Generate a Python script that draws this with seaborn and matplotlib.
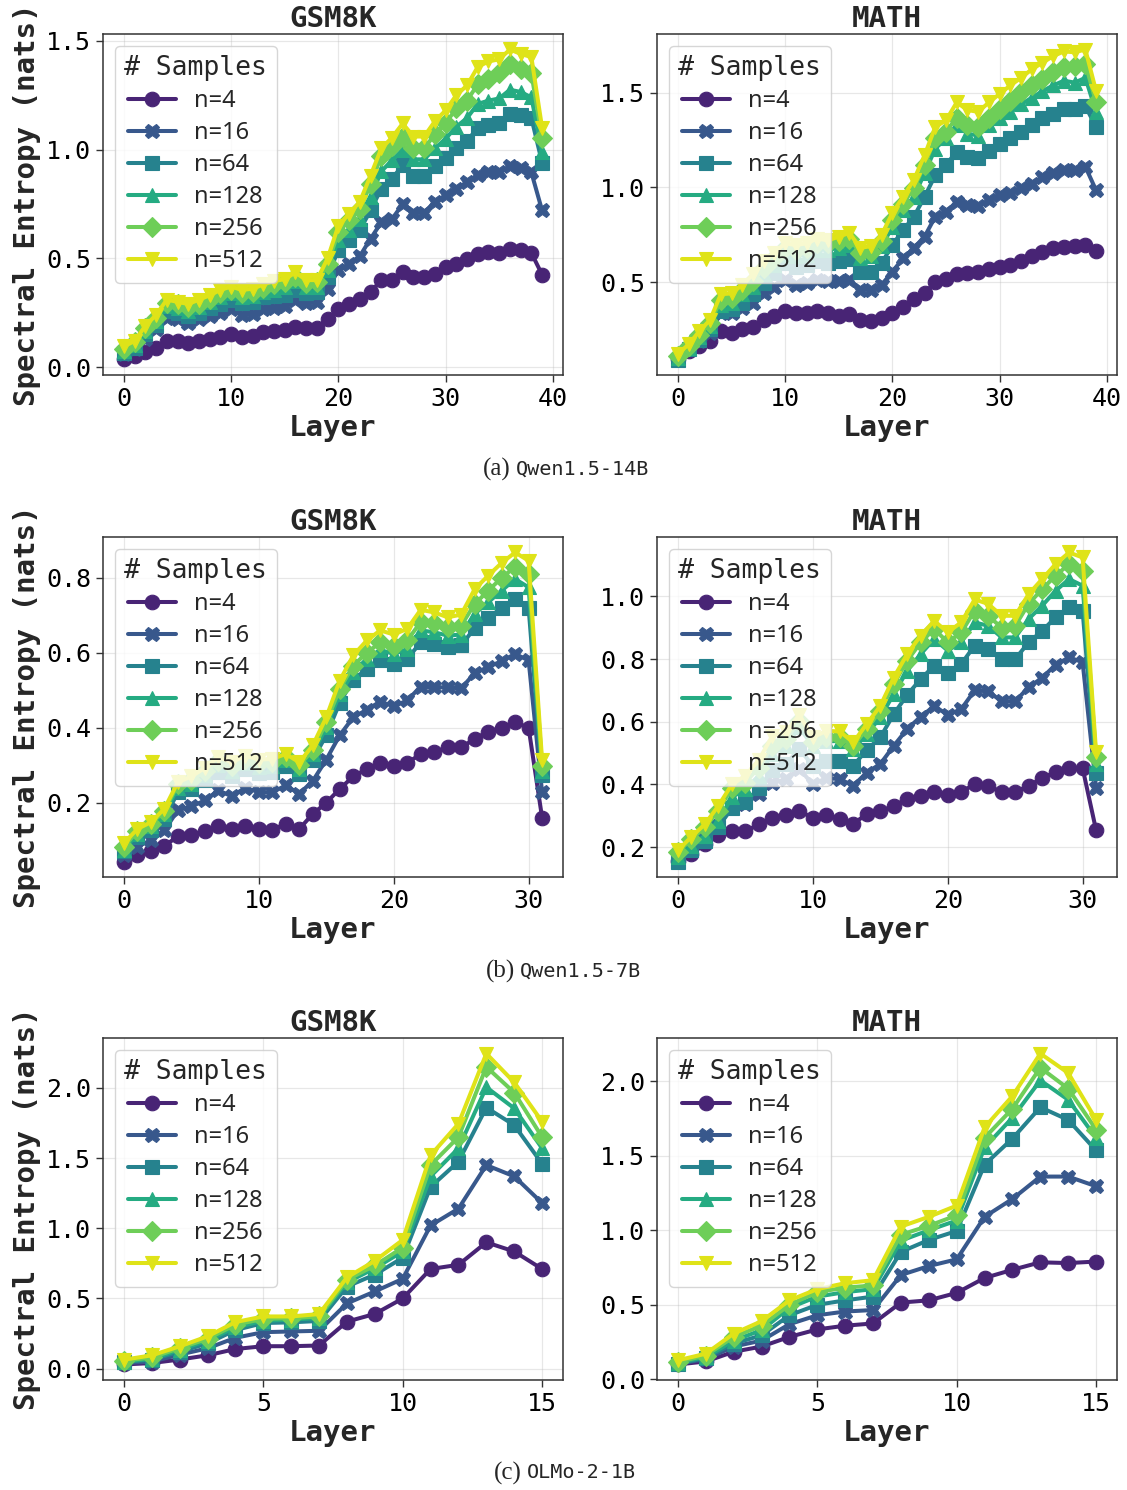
import matplotlib
matplotlib.use("Agg")
import matplotlib.pyplot as plt
from matplotlib.font_manager import FontProperties
import numpy as np
import pandas as pd
import seaborn as sns

# ---------------------------------------------------------------- data
SAMPLE_COUNTS = [4, 16, 64, 128, 256, 512]
MARKERS = ["o", "X", "s", "^", "D", "v"]
DATASETS = ["GSM8K", "MATH"]
MODELS = ["Qwen1.5-14B", "Qwen1.5-7B", "OLMo-2-1B"]
PANEL_TAGS = ["(a)", "(b)", "(c)"]

# spectral entropy (nats) per layer, keyed by number of samples
qwen14b_gsm8k = {
    4: [0.035, 0.05, 0.07, 0.09, 0.12, 0.12, 0.11, 0.12, 0.13, 0.14, 0.15, 0.14, 0.145, 0.16, 0.165, 0.17, 0.185, 0.18, 0.18, 0.22,
        0.265, 0.29, 0.315, 0.345, 0.40, 0.40, 0.435, 0.415, 0.415, 0.43, 0.46, 0.475, 0.495, 0.52, 0.53, 0.525, 0.545, 0.54, 0.525, 0.425],
    16: [0.06, 0.085, 0.13, 0.175, 0.225, 0.22, 0.205, 0.22, 0.235, 0.25, 0.265, 0.24, 0.245, 0.265, 0.27, 0.28, 0.31, 0.295, 0.30, 0.36,
         0.445, 0.475, 0.51, 0.59, 0.665, 0.68, 0.75, 0.71, 0.71, 0.76, 0.79, 0.82, 0.85, 0.885, 0.895, 0.895, 0.925, 0.915, 0.895, 0.72],
    64: [0.065, 0.09, 0.15, 0.195, 0.26, 0.25, 0.235, 0.25, 0.27, 0.29, 0.31, 0.295, 0.30, 0.32, 0.325, 0.33, 0.355, 0.34, 0.345, 0.415,
         0.54, 0.585, 0.63, 0.72, 0.82, 0.865, 0.93, 0.88, 0.88, 0.925, 0.96, 1.005, 1.04, 1.10, 1.115, 1.12, 1.165, 1.16, 1.145, 0.94],
    128: [0.075, 0.10, 0.165, 0.21, 0.28, 0.27, 0.26, 0.275, 0.30, 0.32, 0.34, 0.32, 0.325, 0.345, 0.355, 0.37, 0.395, 0.37, 0.37, 0.445,
          0.585, 0.63, 0.68, 0.78, 0.90, 0.95, 1.00, 0.955, 0.955, 1.005, 1.05, 1.105, 1.145, 1.21, 1.225, 1.235, 1.275, 1.265, 1.24, 0.99],
    256: [0.085, 0.115, 0.18, 0.225, 0.295, 0.29, 0.275, 0.29, 0.315, 0.34, 0.355, 0.34, 0.345, 0.365, 0.38, 0.39, 0.415, 0.385, 0.39, 0.475,
          0.62, 0.675, 0.725, 0.84, 0.97, 1.015, 1.06, 1.005, 1.005, 1.07, 1.12, 1.19, 1.225, 1.30, 1.325, 1.35, 1.395, 1.37, 1.35, 1.055],
    512: [0.095, 0.12, 0.19, 0.24, 0.31, 0.30, 0.29, 0.31, 0.33, 0.355, 0.37, 0.355, 0.36, 0.38, 0.395, 0.405, 0.435, 0.40, 0.40, 0.50,
          0.65, 0.705, 0.76, 0.88, 1.005, 1.055, 1.12, 1.06, 1.06, 1.13, 1.18, 1.25, 1.295, 1.38, 1.405, 1.415, 1.46, 1.44, 1.425, 1.10],
}

qwen14b_math = {
    4: [0.095, 0.135, 0.16, 0.19, 0.24, 0.23, 0.25, 0.26, 0.30, 0.32, 0.345, 0.335, 0.335, 0.345, 0.335, 0.32, 0.33, 0.30, 0.295, 0.31,
        0.335, 0.37, 0.41, 0.44, 0.50, 0.515, 0.54, 0.55, 0.555, 0.57, 0.58, 0.59, 0.61, 0.635, 0.66, 0.68, 0.685, 0.69, 0.695, 0.665],
    16: [0.10, 0.145, 0.19, 0.23, 0.335, 0.335, 0.36, 0.39, 0.44, 0.475, 0.51, 0.485, 0.495, 0.51, 0.505, 0.505, 0.51, 0.46, 0.46, 0.485,
         0.555, 0.625, 0.68, 0.74, 0.845, 0.87, 0.925, 0.905, 0.90, 0.935, 0.96, 0.97, 0.995, 1.02, 1.055, 1.075, 1.09, 1.09, 1.11, 0.985],
    64: [0.09, 0.145, 0.195, 0.25, 0.345, 0.355, 0.39, 0.435, 0.495, 0.545, 0.60, 0.58, 0.59, 0.61, 0.60, 0.61, 0.62, 0.555, 0.555, 0.60,
         0.695, 0.775, 0.845, 0.95, 1.065, 1.12, 1.19, 1.16, 1.155, 1.195, 1.23, 1.26, 1.295, 1.33, 1.365, 1.39, 1.415, 1.415, 1.43, 1.32],
    128: [0.10, 0.15, 0.21, 0.265, 0.38, 0.39, 0.435, 0.475, 0.54, 0.59, 0.645, 0.635, 0.645, 0.67, 0.67, 0.68, 0.695, 0.625, 0.635, 0.69,
          0.79, 0.88, 0.95, 1.075, 1.205, 1.26, 1.33, 1.285, 1.275, 1.33, 1.365, 1.40, 1.44, 1.475, 1.51, 1.54, 1.565, 1.555, 1.58, 1.40],
    256: [0.11, 0.16, 0.22, 0.285, 0.405, 0.415, 0.46, 0.505, 0.575, 0.625, 0.68, 0.67, 0.68, 0.705, 0.705, 0.715, 0.73, 0.655, 0.66, 0.715,
          0.83, 0.915, 0.995, 1.12, 1.26, 1.295, 1.37, 1.33, 1.32, 1.37, 1.415, 1.46, 1.505, 1.54, 1.575, 1.61, 1.635, 1.645, 1.655, 1.45],
    512: [0.12, 0.17, 0.24, 0.30, 0.435, 0.44, 0.485, 0.54, 0.61, 0.655, 0.705, 0.695, 0.705, 0.73, 0.72, 0.74, 0.76, 0.68, 0.69, 0.75,
          0.865, 0.95, 1.04, 1.17, 1.32, 1.355, 1.45, 1.41, 1.40, 1.45, 1.495, 1.54, 1.58, 1.625, 1.66, 1.695, 1.72, 1.715, 1.73, 1.51],
}

qwen7b_gsm8k = {
    4: [0.043, 0.06, 0.07, 0.085, 0.11, 0.113, 0.124, 0.137, 0.13, 0.137, 0.13, 0.128, 0.144, 0.13, 0.17, 0.20,
        0.237, 0.27, 0.29, 0.306, 0.297, 0.306, 0.33, 0.335, 0.348, 0.348, 0.37, 0.39, 0.40, 0.415, 0.40, 0.16],
    16: [0.06, 0.083, 0.10, 0.126, 0.18, 0.19, 0.206, 0.233, 0.217, 0.24, 0.228, 0.228, 0.246, 0.224, 0.258, 0.315,
         0.38, 0.428, 0.448, 0.47, 0.457, 0.473, 0.51, 0.508, 0.508, 0.505, 0.546, 0.562, 0.578, 0.597, 0.58, 0.228],
    64: [0.07, 0.108, 0.126, 0.157, 0.228, 0.237, 0.26, 0.283, 0.27, 0.29, 0.28, 0.282, 0.297, 0.277, 0.315, 0.38,
         0.467, 0.528, 0.557, 0.58, 0.57, 0.584, 0.628, 0.624, 0.615, 0.62, 0.666, 0.693, 0.72, 0.744, 0.72, 0.273],
    128: [0.075, 0.117, 0.137, 0.169, 0.24, 0.25, 0.273, 0.30, 0.286, 0.306, 0.295, 0.297, 0.313, 0.29, 0.33, 0.402,
          0.49, 0.548, 0.584, 0.608, 0.597, 0.61, 0.66, 0.655, 0.646, 0.649, 0.704, 0.735, 0.766, 0.797, 0.775, 0.284],
    256: [0.082, 0.124, 0.144, 0.178, 0.249, 0.261, 0.284, 0.311, 0.297, 0.317, 0.306, 0.308, 0.322, 0.30, 0.34, 0.415,
          0.504, 0.566, 0.60, 0.628, 0.617, 0.633, 0.682, 0.68, 0.668, 0.673, 0.73, 0.766, 0.80, 0.83, 0.81, 0.297],
    512: [0.092, 0.13, 0.148, 0.184, 0.255, 0.27, 0.293, 0.322, 0.308, 0.326, 0.315, 0.317, 0.33, 0.308, 0.353, 0.428,
          0.526, 0.593, 0.633, 0.66, 0.649, 0.664, 0.715, 0.708, 0.695, 0.702, 0.77, 0.806, 0.84, 0.868, 0.846, 0.313],
}

qwen7b_math = {
    4: [0.156, 0.178, 0.21, 0.24, 0.25, 0.25, 0.273, 0.293, 0.303, 0.316, 0.293, 0.303, 0.29, 0.275, 0.305, 0.314,
        0.332, 0.353, 0.364, 0.375, 0.367, 0.377, 0.40, 0.396, 0.375, 0.375, 0.396, 0.42, 0.44, 0.452, 0.452, 0.254],
    16: [0.158, 0.194, 0.226, 0.268, 0.327, 0.337, 0.37, 0.403, 0.417, 0.45, 0.40, 0.42, 0.417, 0.396, 0.438, 0.465,
         0.523, 0.577, 0.616, 0.65, 0.622, 0.64, 0.70, 0.697, 0.665, 0.665, 0.71, 0.74, 0.782, 0.805, 0.79, 0.39],
    64: [0.154, 0.19, 0.218, 0.265, 0.324, 0.343, 0.388, 0.446, 0.465, 0.513, 0.46, 0.476, 0.476, 0.46, 0.51, 0.55,
         0.624, 0.686, 0.736, 0.779, 0.757, 0.784, 0.843, 0.832, 0.80, 0.80, 0.853, 0.89, 0.933, 0.965, 0.954, 0.438],
    128: [0.167, 0.204, 0.236, 0.284, 0.359, 0.385, 0.428, 0.497, 0.523, 0.582, 0.523, 0.537, 0.539, 0.513, 0.56, 0.614,
          0.688, 0.763, 0.816, 0.864, 0.827, 0.853, 0.917, 0.906, 0.869, 0.869, 0.928, 0.97, 1.018, 1.055, 1.034, 0.465],
    256: [0.183, 0.226, 0.263, 0.316, 0.39, 0.406, 0.454, 0.523, 0.545, 0.603, 0.534, 0.55, 0.55, 0.523, 0.577, 0.635,
          0.72, 0.795, 0.853, 0.896, 0.853, 0.885, 0.954, 0.938, 0.90, 0.906, 0.976, 1.023, 1.066, 1.103, 1.082, 0.486],
    512: [0.19, 0.233, 0.273, 0.332, 0.40, 0.428, 0.478, 0.555, 0.566, 0.622, 0.55, 0.571, 0.569, 0.534, 0.593, 0.65,
          0.741, 0.816, 0.875, 0.922, 0.885, 0.917, 0.99, 0.976, 0.938, 0.938, 1.007, 1.055, 1.103, 1.14, 1.124, 0.502],
}

olmo_gsm8k = {
    4: [0.03, 0.04, 0.065, 0.095, 0.14, 0.16, 0.16, 0.165, 0.335, 0.39, 0.50, 0.71, 0.74, 0.90, 0.835, 0.71],
    16: [0.04, 0.05, 0.10, 0.145, 0.22, 0.26, 0.265, 0.27, 0.465, 0.55, 0.64, 1.02, 1.14, 1.45, 1.37, 1.18],
    64: [0.047, 0.065, 0.12, 0.18, 0.275, 0.325, 0.33, 0.34, 0.585, 0.67, 0.79, 1.295, 1.475, 1.86, 1.735, 1.46],
    128: [0.05, 0.07, 0.135, 0.20, 0.295, 0.34, 0.35, 0.36, 0.615, 0.715, 0.835, 1.37, 1.57, 2.005, 1.855, 1.57],
    256: [0.057, 0.08, 0.147, 0.213, 0.313, 0.355, 0.36, 0.372, 0.633, 0.735, 0.863, 1.45, 1.65, 2.15, 1.967, 1.65],
    512: [0.064, 0.095, 0.159, 0.23, 0.332, 0.372, 0.372, 0.389, 0.65, 0.768, 0.917, 1.52, 1.745, 2.245, 2.04, 1.76],
}

olmo_math = {
    4: [0.10, 0.12, 0.185, 0.22, 0.285, 0.335, 0.36, 0.375, 0.515, 0.53, 0.58, 0.68, 0.735, 0.785, 0.78, 0.79],
    16: [0.105, 0.135, 0.22, 0.26, 0.37, 0.43, 0.455, 0.465, 0.70, 0.76, 0.805, 1.09, 1.21, 1.36, 1.36, 1.295],
    64: [0.105, 0.145, 0.24, 0.295, 0.43, 0.50, 0.53, 0.555, 0.855, 0.935, 0.995, 1.44, 1.615, 1.825, 1.74, 1.535],
    128: [0.112, 0.15, 0.26, 0.33, 0.48, 0.555, 0.585, 0.605, 0.93, 1.00, 1.065, 1.555, 1.755, 2.005, 1.875, 1.62],
    256: [0.117, 0.16, 0.285, 0.36, 0.50, 0.585, 0.615, 0.63, 0.97, 1.03, 1.10, 1.62, 1.815, 2.09, 1.95, 1.675],
    512: [0.128, 0.172, 0.307, 0.39, 0.53, 0.605, 0.645, 0.665, 1.025, 1.09, 1.165, 1.69, 1.90, 2.185, 2.055, 1.74],
}

# tick marks for each panel, row by row
YTICKS = [
    [[0.0, 0.5, 1.0, 1.5], [0.5, 1.0, 1.5]],
    [[0.2, 0.4, 0.6, 0.8], [0.2, 0.4, 0.6, 0.8, 1.0]],
    [[0.0, 0.5, 1.0, 1.5, 2.0], [0.0, 0.5, 1.0, 1.5, 2.0]],
]
XTICKS = [[0, 10, 20, 30, 40], [0, 10, 20, 30], [0, 5, 10, 15]]

PANELS = [
    [qwen14b_gsm8k, qwen14b_math],
    [qwen7b_gsm8k, qwen7b_math],
    [olmo_gsm8k, olmo_math],
]

# ---------------------------------------------------------------- style
sns.set_theme(style="ticks")
plt.rcParams["font.family"] = ["DejaVu Sans Mono"]
plt.rcParams["axes.edgecolor"] = "#333333"
plt.rcParams["axes.linewidth"] = 1.1
plt.rcParams["xtick.color"] = "#333333"
plt.rcParams["ytick.color"] = "#333333"
plt.rcParams["xtick.labelcolor"] = "black"
plt.rcParams["ytick.labelcolor"] = "black"

palette = [plt.cm.viridis(v) for v in np.linspace(0.1, 0.95, len(SAMPLE_COUNTS))]
labels = [f"n={n}" for n in SAMPLE_COUNTS]

W, H = 1127, 1490
fig = plt.figure(figsize=(W / 100, H / 100), dpi=100)

col_left = [103, 657]
col_width = 460
row_top = [34, 537, 1038]
row_height = [341, 340, 342]

title_font = FontProperties(family="DejaVu Sans Mono", weight="bold", size=21)
legend_title_font = FontProperties(family="DejaVu Sans Mono", size=19)
legend_font = FontProperties(family="Noto Sans", size=17)

for r in range(3):
    for c in range(2):
        rect = [col_left[c] / W, 1 - (row_top[r] + row_height[r]) / H,
                col_width / W, row_height[r] / H]
        ax = fig.add_axes(rect)
        series = PANELS[r][c]
        frames = []
        for n, lab in zip(SAMPLE_COUNTS, labels):
            vals = series[n]
            frames.append(pd.DataFrame({"Layer": np.arange(len(vals)),
                                        "Entropy": vals,
                                        "Samples": lab}))
        df = pd.concat(frames, ignore_index=True)
        sns.lineplot(data=df, x="Layer", y="Entropy", hue="Samples", style="Samples",
                     hue_order=labels, style_order=labels, palette=palette,
                     markers=MARKERS, dashes=False, errorbar=None,
                     linewidth=2.9, markersize=10.5, markeredgecolor=None,
                     markeredgewidth=0.8, ax=ax)

        ax.set_xticks(XTICKS[r])
        ax.set_yticks(YTICKS[r][c])
        ax.set_yticklabels([f"{t:.1f}" for t in YTICKS[r][c]])
        ax.tick_params(labelsize=18, length=5, width=1)
        ax.grid(True, color="#bbbbbb", alpha=0.35, linewidth=0.9)
        ax.set_axisbelow(True)

        ax.set_title(DATASETS[c], fontproperties=title_font, pad=5)
        ax.set_xlabel("Layer", fontproperties=title_font, labelpad=2)
        if c == 0:
            ax.set_ylabel("Spectral Entropy (nats)", fontproperties=title_font, labelpad=4)
        else:
            ax.set_ylabel("")

        old = ax.get_legend()
        handles = old.legend_handles
        texts = [t.get_text() for t in old.get_texts()]
        old.remove()
        ax.legend(handles, texts, loc="upper left", title="# Samples",
                  prop=legend_font, title_fontproperties=legend_title_font,
                  labelspacing=0.34, handlelength=2.0, handletextpad=0.8,
                  borderpad=0.4, framealpha=0.8)

    # sub-figure caption
    cap_y = 1 - [469, 971, 1473][r] / H
    tag_right = [511, 515, 522][r]
    fig.text(tag_right / W, cap_y, PANEL_TAGS[r], ha="right", va="center",
             family="Liberation Serif", size=18)
    fig.text((tag_right + 5) / W, cap_y, MODELS[r], ha="left", va="center",
             family="DejaVu Sans Mono", size=14.5)

fig.savefig("out.png", dpi=100)
